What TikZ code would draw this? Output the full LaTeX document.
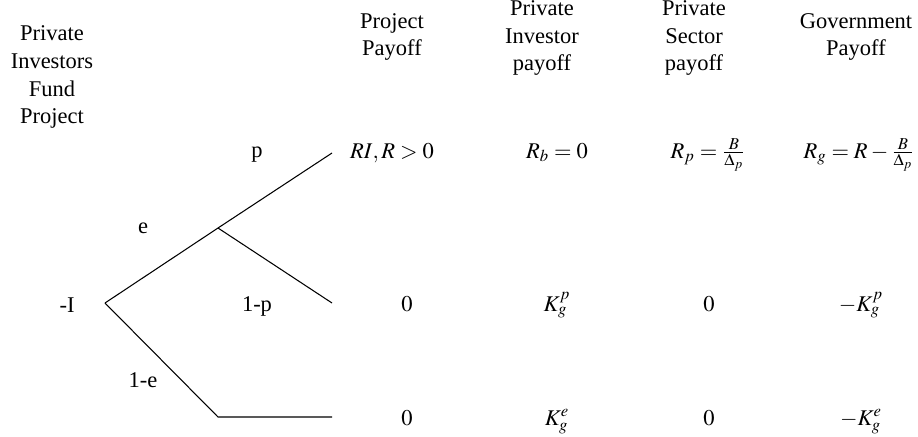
\documentclass[tikz,border=0pt]{standalone}
\usepackage{mathptmx}
\usepackage{fontspec}
\setmainfont{Liberation Serif}
\begin{document}
\begin{tikzpicture}[x=0.02cm, y=-0.02cm,
    head/.style={align=center, font=\fontsize{12.8}{15.9}\selectfont, inner sep=0pt},
    pay/.style={anchor=base, font=\fontsize{12.8}{15.9}\selectfont, inner sep=0pt},
    blabel/.style={anchor=base, font=\fontsize{12.8}{15.9}\selectfont, inner sep=0pt},
    branch/.style={line width=0.6pt, draw=black},
]
\useasboundingbox (0,0) rectangle (918,436);

% column headers
\node[head] (hfund) at (52,77) {Private\\Investors\\Fund\\Project};
\node[head] (hproj) at (392,37) {Project\\Payoff};
\node[head] (hinv) at (542,38) {Private\\Investor\\payoff};
\node[head] (hsec) at (694,38) {Private\\Sector\\payoff};
\node[head] (hgov) at (856,37) {Government\\Payoff};

% game tree
\coordinate (root) at (105,303);
\coordinate (ev) at (218,228);
\coordinate (up) at (332,153);
\coordinate (mid) at (332,303);
\coordinate (fail) at (218,417);
\coordinate (low) at (332,417);
\draw[branch] (root) -- (ev) -- (up);
\draw[branch] (ev) -- (mid);
\draw[branch] (root) -- (fail) -- (low);

\node[blabel] (lroot) at (67,312) {-I};
\node[blabel] (le) at (143,233) {e};
\node[blabel] (lp) at (257,157) {p};
\node[blabel] (lnp) at (257,311) {1-p};
\node[blabel] (lne) at (143,387) {1-e};

% payoffs
\node[pay] (a1) at (392,158) {$RI, R>0$};
\node[pay] (b1) at (557,158) {$R_b=0$};
\node[pay] (c1) at (708,158) {$R_p=\frac{B}{\Delta_p}$};
\node[pay] (d1) at (859,158) {$R_g=R-\frac{B}{\Delta_p}$};

\node[pay] (a2) at (407,311) {$0$};
\node[pay] (b2) at (557,311) {$K_g^p$};
\node[pay] (c2) at (709,311) {$0$};
\node[pay] (d2) at (861,311) {$-K_g^p$};

\node[pay] (a3) at (407,425) {$0$};
\node[pay] (b3) at (557,425) {$K_g^e$};
\node[pay] (c3) at (709,425) {$0$};
\node[pay] (d3) at (861,425) {$-K_g^e$};
\end{tikzpicture}
\end{document}
